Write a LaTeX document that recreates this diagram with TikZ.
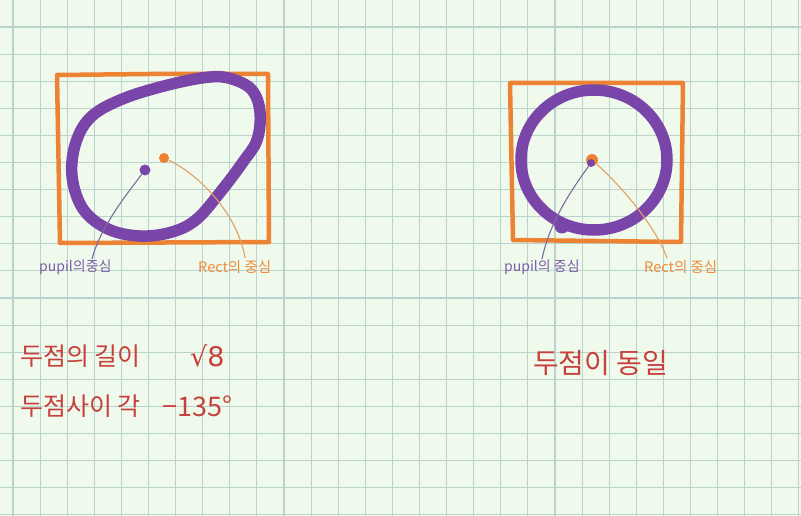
\documentclass[tikz,border=0pt]{standalone}
\usepackage{fontspec}
\setmainfont{Noto Sans CJK KR}
\newfontfamily\kr{Noto Sans CJK KR}
\newfontfamily\symfont{DejaVu Sans}
\definecolor{paper}{HTML}{EFF9EC}
\definecolor{gridc}{HTML}{B9D3CD}
\definecolor{rectc}{HTML}{EC8234}
\definecolor{pupc}{HTML}{7A45A8}
\definecolor{pleadc}{HTML}{7D6AA6}
\definecolor{oleadc}{HTML}{E4A062}
\definecolor{plabc}{HTML}{7C5EAA}
\definecolor{olabc}{HTML}{EE8C3C}
\definecolor{redc}{HTML}{C8403C}
\tikzset{
  gridline/.style={draw=gridc, line width=1.1pt},
  rectbox/.style={draw=rectc, line width=4.5pt, line cap=round, line join=round},
  pupilring/.style={draw=pupc, line width=11.5pt, line cap=round, line join=round},
  pdot/.style={circle, fill=pupc, inner sep=0pt, minimum size=11pt},
  odot/.style={circle, fill=rectc, inner sep=0pt, minimum size=10pt},
  plead/.style={draw=pleadc, line width=1.1pt},
  olead/.style={draw=oleadc, line width=1.1pt},
  plabel/.style={text=plabc, font=\kr\fontsize{14}{15}\selectfont, inner sep=0pt, anchor=west},
  olabel/.style={text=olabc, font=\kr\fontsize{14.5}{15}\selectfont, inner sep=0pt, anchor=west},
  note/.style={text=redc, inner sep=0pt, anchor=west},
}
\begin{document}
\begin{tikzpicture}[x=1pt, y=-1pt]
\useasboundingbox (0,0) rectangle (801,516);
\fill[paper] (0,0) rectangle (801,516);
% grid
\foreach \k in {0,...,29} { \draw[gridline] ({13+27.1*\k},0) -- ({13+27.1*\k},516); }
\foreach \k in {0,...,18} { \draw[gridline] (0,{27+27.1*\k}) -- (801,{27+27.1*\k}); }

% ---------- left figure ----------
\draw[rectbox] (57,75) -- (150,74) -- (268,74) -- (269,242) -- (60,243) -- cycle;
\draw[pupilring] plot[smooth cycle, tension=0.6] coordinates {
  (232,79) (252,90) (260,112) (257,140) (243,162) (222,190) (197,219)
  (172,232) (140,236) (108,229) (83,209) (72,176) (76,142) (92,116)
  (125,98) (172,84) (210,77)};
\node[pdot] (pdotL) at (145,170) {};
\node[odot] (odotL) at (164,158) {};
\node[plabel] (pupL) at (39,267) {pupil의중심};
\node[olabel] (rectL) at (198,267) {Rect의 중심};
\coordinate (pendL) at (92,259);
\coordinate (oendL) at (245,258);
\draw[plead] (pdotL) .. controls (126,195) and (100,228) .. (pendL);
\draw[olead] (odotL) .. controls (200,175) and (238,215) .. (oendL);

% ---------- right figure ----------
\draw[rectbox] (510,83) -- (683,83) -- (681,242) -- (513,240) -- cycle;
\draw[pupilring] (594,160) ellipse [x radius=73, y radius=70];
\fill[pupc] (562,226) circle (7.5);
\node[odot, minimum size=12pt] (odotR) at (592,160) {};
\node[pdot, minimum size=8pt] (pdotR) at (591,163) {};
\node[plabel] (pupR) at (504,267) {pupil의 중심};
\node[olabel] (rectR) at (644,267) {Rect의 중심};
\coordinate (pendR) at (542,259);
\coordinate (oendR) at (667,258);
\draw[plead] (pdotR) .. controls (575,185) and (550,220) .. (pendR);
\draw[olead] (odotR) .. controls (620,185) and (655,225) .. (oendR);

% ---------- notes ----------
\node[note, font=\kr\fontsize{25}{26}\selectfont] (n1) at (20,356) {두점의 길이};
\node[note, font=\symfont\fontsize{27}{28}\selectfont] (n2) at (190,356) {√8};
\node[note, font=\kr\fontsize{25}{26}\selectfont] (n3) at (20,406) {두점사이 각};
\node[note, font=\kr\fontsize{27}{26}\selectfont] (n4) at (162,406) {−135°};
\node[note, font=\kr\fontsize{28}{30}\selectfont] (n5) at (533,363) {두점이 동일};
\end{tikzpicture}
\end{document}
